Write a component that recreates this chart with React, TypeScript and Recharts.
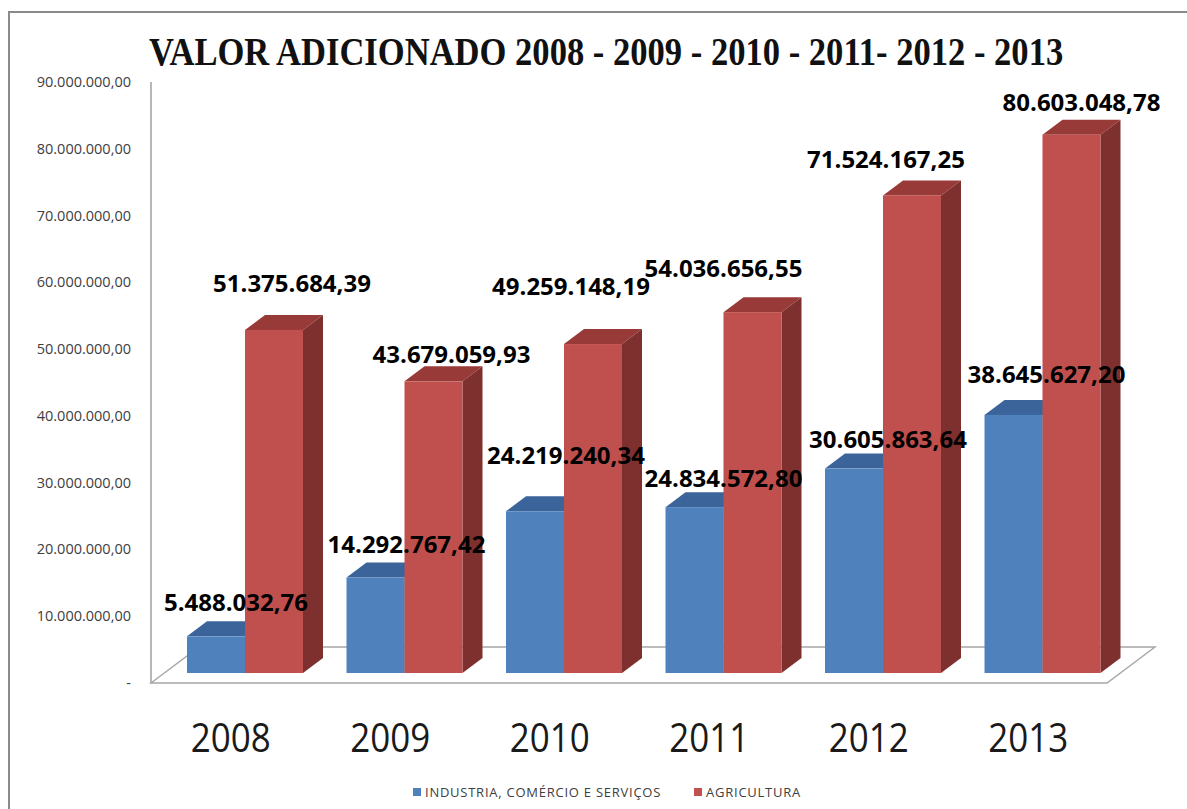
import React from 'react';
import { BarChart, Bar, XAxis, YAxis, ReferenceArea, LabelList } from 'recharts';

const years = ['2008', '2009', '2010', '2011', '2012', '2013'];
const industria = [5488032.76, 14292767.42, 24219240.34, 24834572.8, 30605863.64, 38645627.2];
const agricultura = [51375684.39, 43679059.93, 49259148.19, 54036656.55, 71524167.25, 80603048.78];
const yTicks = [0, 10000000, 20000000, 30000000, 40000000, 50000000, 60000000, 70000000, 80000000, 90000000];
const yTickLabels = ['-', '10.000.000,00', '20.000.000,00', '30.000.000,00', '40.000.000,00', '50.000.000,00', '60.000.000,00', '70.000.000,00', '80.000.000,00', '90.000.000,00'];
const seriesNames = ['INDUSTRIA, COMÉRCIO E SERVIÇOS', 'AGRICULTURA'];
const title = 'VALOR ADICIONADO 2008 - 2009 - 2010 - 2011- 2012 - 2013';

// label nudges in px (dx from bar centre, rise above bar top) — styling only
const industriaLabelNudge = [[20, 34], [31, 33], [31, 56], [29, 29], [34, 29], [33, 40]];
const agriculturaLabelNudge = [[18, 46], [18, 27], [-22, 58], [-29, 44], [-26, 36], [10, 32]];

const data = years.map((y, i) => ({ year: y, industria: industria[i], agricultura: agricultura[i] }));

const fmt = (v: number) => {
  const [int, dec] = v.toFixed(2).split('.');
  return int.replace(/\B(?=(\d{3})+(?!\d))/g, '.') + ',' + dec;
};

const DX = 20;
const DY = 15;

const Box3D = (props: any) => {
  const { x, y, width, height, front, top, side } = props;
  if (x == null || y == null) return null;
  const r = x + width;
  const b = y + height;
  return (
    <g>
      <polygon points={`${x},${y} ${x + DX},${y - DY} ${r + DX},${y - DY} ${r},${y}`} fill={top} />
      <polygon points={`${r},${y} ${r + DX},${y - DY} ${r + DX},${b - DY} ${r},${b}`} fill={side} />
      <rect x={x} y={y} width={width} height={height} fill={front} />
    </g>
  );
};

const Floor = (props: any) => {
  const { x, y, width, height } = props;
  const bottom = y + height;
  const fl = x - 14;
  const fr = x + width - 15;
  const fy = bottom + 10;
  const dx = 48;
  const dy = 36;
  return (
    <g>
      <polygon
        points={`${fl},${fy} ${fr},${fy} ${fr + dx},${fy - dy} ${fl + dx},${fy - dy}`}
        fill="#ffffff"
        stroke="#a6a6a6"
        strokeWidth={1.4}
      />
      <line x1={fl} y1={y + 10} x2={fl} y2={fy} stroke="#a6a6a6" strokeWidth={1.6} />
    </g>
  );
};

const XTick = (props: any) => {
  const { x, y, payload } = props;
  return (
    <text
      x={x - 14}
      y={y + 79}
      textAnchor="middle"
      fontFamily="'Open Sans', sans-serif"
      fontSize={40}
      fill="#1a1a1a"
      textLength={80}
      lengthAdjust="spacingAndGlyphs"
    >
      {payload.value}
    </text>
  );
};

const YTick = (props: any) => {
  const { x, y, payload, index } = props;
  return (
    <text x={x} y={y + 15} textAnchor="end" fontFamily="'Open Sans', sans-serif" fontSize={14.5} fill="#404040">
      {yTickLabels[index] ?? payload.value}
    </text>
  );
};

const makeLabel = (nudges: number[][]) => (p: any) => {
  const { x, y, width, value, index } = p;
  const n = nudges[index] || [DX / 2, 30];
  return (
    <text
      x={x + width / 2 + n[0]}
      y={y - n[1] + 8.5}
      textAnchor="middle"
      fontFamily="'Open Sans', sans-serif"
      fontWeight="bold"
      fontSize={24}
      fill="#000000"
    >
      {fmt(Number(value))}
    </text>
  );
};

export default function App() {
  return (
    <div style={{ position: 'fixed', left: 0, top: 0, width: 1187, height: 809, overflow: 'hidden', background: '#ffffff' }}>
      <div
        style={{
          position: 'absolute',
          left: 8,
          top: 11,
          width: 1200,
          height: 820,
          borderLeft: '2px solid #8a8a8a',
          borderTop: '2px solid #8a8a8a',
        }}
      />
      <div
        style={{
          position: 'absolute',
          left: -94,
          top: 29,
          width: 1400,
          textAlign: 'center',
          whiteSpace: 'nowrap',
        }}
      >
        <span
          style={{
            display: 'inline-block',
            fontFamily: "'Liberation Serif', serif",
            fontWeight: 'bold',
            fontSize: 40,
            lineHeight: '46px',
            color: '#111111',
            transform: 'scaleX(0.864)',
            transformOrigin: 'center',
          }}
        >
          {title}
        </span>
      </div>
      <div style={{ position: 'absolute', left: 0, top: 0 }}>
        <BarChart
          width={1187}
          height={809}
          data={data}
          margin={{ top: 72, right: 65, bottom: 106, left: 0 }}
          barGap={0}
          barSize={58}
        >
          <XAxis dataKey="year" axisLine={false} tickLine={false} tickSize={0} tickMargin={0} height={30} tick={<XTick />} interval={0} />
          <YAxis
            domain={[0, 90000000]}
            ticks={yTicks}
            width={165}
            axisLine={false}
            tickLine={false}
            tickSize={0}
            tickMargin={34}
            tick={<YTick />}
            interval={0}
          />
          <ReferenceArea y1={0} y2={90000000} shape={(p: any) => <Floor {...p} />} ifOverflow="visible" />
          <Bar
            dataKey="industria"
            name={seriesNames[0]}
            isAnimationActive={false}
            shape={(p: any) => <Box3D {...p} front="#4f81bd" top="#3b659a" side="#37608f" />}
          >
            <LabelList dataKey="industria" content={makeLabel(industriaLabelNudge)} />
          </Bar>
          <Bar
            dataKey="agricultura"
            name={seriesNames[1]}
            isAnimationActive={false}
            shape={(p: any) => <Box3D {...p} front="#c0504d" top="#983a38" side="#7e302e" />}
          >
            <LabelList dataKey="agricultura" content={makeLabel(agriculturaLabelNudge)} />
          </Bar>
        </BarChart>
      </div>
      <div
        style={{
          position: 'absolute',
          left: 413,
          top: 783,
          display: 'flex',
          alignItems: 'center',
          fontFamily: "'Open Sans', sans-serif",
          fontSize: 13,
          letterSpacing: 0.75,
          color: '#404040',
          whiteSpace: 'nowrap',
        }}
      >
        <span style={{ width: 8, height: 8, background: '#4f81bd', display: 'inline-block', marginRight: 4 }} />
        <span>{seriesNames[0]}</span>
        <span style={{ width: 8, height: 8, background: '#c0504d', display: 'inline-block', marginLeft: 33, marginRight: 4 }} />
        <span>{seriesNames[1]}</span>
      </div>
    </div>
  );
}
